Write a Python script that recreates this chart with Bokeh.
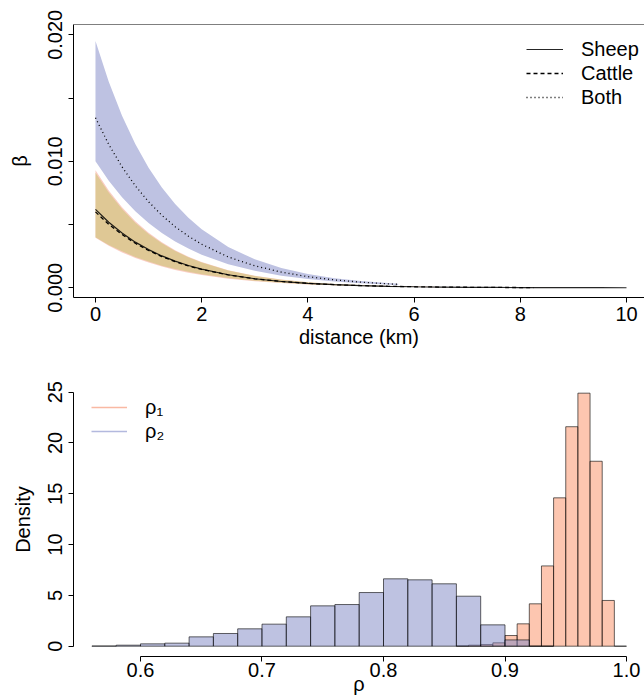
from bokeh.plotting import figure
from bokeh.layouts import column
from bokeh.models import (Range1d, FixedTicker, Span, Legend, LegendItem, Label,
                          PrintfTickFormatter)
from bokeh.embed import file_html
from bokeh.resources import INLINE

FONT = "Liberation Sans"
NAN = float("nan")

# ---------------- Panel A data (transmission kernel beta vs distance) ----------------
dist_sheep = [0, 0.25, 0.5, 0.75, 1, 1.25, 1.5, 1.75, 2, 2.5, 3, 3.5, 4, 4.5, 5, 5.5,
              6, 6.5, 7, 7.5, 8, 8.5, 9, 9.5, 10]
sheep_mean = [0.00620, 0.00518, 0.00433, 0.00361, 0.00302, 0.00252, 0.00211, 0.00176,
              0.00147, 0.00103, 0.000715, 0.000499, 0.000348, 0.000243, 0.000169,
              0.000118, 0.0000825, 0.0000575, 0.0000401, 0.000028, 0.0000195,
              0.0000136, 0.0000095, 0.0000066, 0.0000046]
sheep_upper = [0.00930, 0.00769, 0.00636, 0.00526, 0.00435, 0.00360, 0.00297, 0.00246,
               0.00203, 0.00139, 0.00095, 0.00065, 0.000445, 0.000304, 0.000208,
               0.000142, 0.0000973, 0.0000665, 0.0000455, 0.0000312, 0.0000213,
               0.0000150, 0.0000105, 0.0000074, 0.0000052]
sheep_lower = [0.00396, 0.00333, 0.00280, 0.00236, 0.00199, 0.00168, 0.00141, 0.00119,
               0.00101, 0.00072, 0.000520, 0.000374, 0.000269, 0.000194, 0.000140,
               0.000101, 0.0000726, 0.000052, 0.0000374, 0.0000262, 0.0000180,
               0.0000124, 0.0000086, 0.0000060, 0.0000041]

dist_cattle = [0, 0.25, 0.5, 0.75, 1, 1.25, 1.5, 1.75, 2, 2.5, 3, 3.5, 4, 4.5, 5, 5.5,
               6, 6.5, 7, 7.5, 8, 8.25]
cattle_mean = [0.00600, 0.00502, 0.00421, 0.00352, 0.00295, 0.00247, 0.00207, 0.00173,
               0.00145, 0.00102, 0.000713, 0.000500, 0.000350, 0.000246, 0.000172,
               0.000121, 0.0000846, 0.0000594, 0.0000416, 0.0000292, 0.0000205,
               0.0000172]
cattle_upper = [0.00910, 0.00753, 0.00622, 0.00515, 0.00426, 0.00352, 0.00291, 0.00241,
                0.00199, 0.00136, 0.00093, 0.000636, 0.000435, 0.000298, 0.000204,
                0.000139, 0.0000952, 0.0000651, 0.0000445, 0.0000312, 0.0000220,
                0.0000185]
cattle_lower = [0.00400, 0.00339, 0.00288, 0.00244, 0.00207, 0.00175, 0.00149, 0.00126,
                0.00107, 0.000768, 0.000552, 0.000397, 0.000286, 0.000205, 0.000148,
                0.000106, 0.0000764, 0.0000548, 0.0000394, 0.0000276, 0.0000192,
                0.0000160]

dist_both = [0, 0.25, 0.5, 0.75, 1, 1.25, 1.5, 1.75, 2, 2.5, 3, 3.5, 4, 4.5, 5, 5.5, 5.7]
both_mean = [0.01344, 0.01133, 0.00956, 0.00806, 0.00680, 0.00573, 0.00483, 0.00408,
             0.00344, 0.00244, 0.00174, 0.00124, 0.00088, 0.000625, 0.000445, 0.000316,
             0.000276]
both_upper = [0.01950, 0.01629, 0.01361, 0.01136, 0.00949, 0.00793, 0.00662, 0.00553,
              0.00462, 0.00322, 0.00225, 0.00157, 0.00109, 0.000764, 0.000532, 0.000372,
              0.000322]
both_lower = [0.01000, 0.00846, 0.00715, 0.00605, 0.00512, 0.00433, 0.00366, 0.00310,
              0.00262, 0.00187, 0.00134, 0.00096, 0.000686, 0.00049, 0.000351, 0.000251,
              0.000219]

a_xticks = [0, 2, 4, 6, 8, 10]
a_yticks = [0, 0.01, 0.02]
a_yminor = [0.005, 0.015]

# ---------------- Panel B data (posterior histograms of rho) ----------------
rho1_bin_left = [0.86, 0.87, 0.88, 0.89, 0.90, 0.91, 0.92, 0.93, 0.94, 0.95, 0.96,
                 0.97, 0.98, 0.99]
rho1_bin_width = 0.01
rho1_density = [0.03, 0.10, 0.16, 0.33, 1.05, 2.20, 4.17, 7.90, 14.6, 21.6, 24.9,
                18.2, 4.5, 0.0]

rho2_bin_left = [0.56, 0.58, 0.60, 0.62, 0.64, 0.66, 0.68, 0.70, 0.72, 0.74, 0.76,
                 0.78, 0.80, 0.82, 0.84, 0.86, 0.88, 0.90, 0.92]
rho2_bin_width = 0.02
rho2_density = [0.02, 0.10, 0.23, 0.30, 0.92, 1.25, 1.71, 2.17, 2.89, 3.97, 4.10,
                5.28, 6.63, 6.53, 6.14, 4.92, 2.10, 0.62, 0.0]

b_xticks = [0.6, 0.7, 0.8, 0.9, 1.0]
b_yticks = [0, 5, 10, 15, 20, 25]


def style_axis(ax):
    ax.axis_line_color = "black"
    ax.axis_line_width = 1
    ax.major_tick_line_color = "black"
    ax.major_tick_out = 5
    ax.major_tick_in = 0
    ax.minor_tick_out = 0
    ax.minor_tick_in = 0
    ax.major_label_text_font = FONT
    ax.major_label_text_font_size = "20px"
    ax.major_label_text_color = "black"
    ax.axis_label_text_font = FONT
    ax.axis_label_text_font_size = "20px"
    ax.axis_label_text_font_style = "normal"
    ax.axis_label_text_color = "black"


def style_legend(leg, glyph_w):
    leg.label_text_font = FONT
    leg.label_text_font_size = "20px"
    leg.label_text_color = "black"
    leg.glyph_width = glyph_w
    leg.glyph_height = 24
    leg.label_height = 24
    leg.label_standoff = 18
    leg.spacing = 0
    leg.padding = 5
    leg.margin = 0
    leg.border_line_color = None
    leg.background_fill_alpha = 0


# ================= Panel A =================
p1 = figure(width=644, height=360, output_backend="svg", toolbar_location=None,
            x_range=Range1d(-0.414, 10.339), y_range=Range1d(-0.000767, 0.020814),
            min_border_left=73, min_border_right=0, min_border_top=24,
            min_border_bottom=63)
p1.xgrid.visible = False
p1.ygrid.visible = False
p1.outline_line_color = None
p1.background_fill_color = "white"

p1.varea(x=dist_both, y1=both_lower, y2=both_upper, fill_color="#BEC2E2", fill_alpha=1.0)
p1.varea(x=dist_sheep, y1=sheep_lower, y2=sheep_upper, fill_color="#F5917A", fill_alpha=0.45)
p1.varea(x=dist_cattle, y1=cattle_lower, y2=cattle_upper, fill_color="#C8C470", fill_alpha=0.55)

r_both = p1.line(dist_both, both_mean, line_color="black", line_width=1.3, line_dash="1 3")
r_cattle = p1.line(dist_cattle, cattle_mean, line_color="black", line_width=1.3, line_dash="4 3")
r_sheep = p1.line(dist_sheep, sheep_mean, line_color="black", line_width=1.2, line_alpha=0.85)

xa = p1.xaxis[0]
style_axis(xa)
xa.ticker = FixedTicker(ticks=a_xticks)
xa.axis_label = "distance (km)"
xa.major_label_standoff = 4
xa.axis_label_standoff = 2

ya = p1.yaxis[0]
style_axis(ya)
ya.ticker = FixedTicker(ticks=a_yticks, minor_ticks=a_yminor)
ya.minor_tick_out = 5
ya.minor_tick_line_color = "black"
ya.formatter = PrintfTickFormatter(format="%.3f")
ya.major_label_orientation = "vertical"
ya.axis_label = "β"
ya.major_label_standoff = 6
ya.axis_label_standoff = 15

p1.add_layout(Span(location=0.020814, dimension="width", line_color="black", line_width=1))

leg1 = Legend(items=[LegendItem(label="Sheep", renderers=[r_sheep]),
                     LegendItem(label="Cattle", renderers=[r_cattle]),
                     LegendItem(label="Both", renderers=[r_both])],
              location=(453, 188))
style_legend(leg1, 37)
p1.add_layout(leg1)

p1.add_layout(Label(x=-62, y=260, x_units="screen", y_units="screen", text="A",
                    text_font=FONT, text_font_size="30px", text_baseline="alphabetic",
                    text_color="black"))

# ================= Panel B =================
p2 = figure(width=644, height=340, output_backend="svg", toolbar_location=None,
            x_range=Range1d(0.54486, 1.01481), y_range=Range1d(-1.014, 25.95),
            min_border_left=73, min_border_right=0, min_border_top=22,
            min_border_bottom=44)
p2.xgrid.visible = False
p2.ygrid.visible = False
p2.outline_line_color = None

rho1_right = [v + rho1_bin_width for v in rho1_bin_left]
rho2_right = [v + rho2_bin_width for v in rho2_bin_left]

p2.quad(left=rho1_bin_left, right=rho1_right, bottom=0, top=rho1_density,
        fill_color="#FB8D61", fill_alpha=0.5, line_color="black", line_alpha=0.6,
        line_width=1)
p2.quad(left=rho2_bin_left, right=rho2_right, bottom=0, top=rho2_density,
        fill_color="#7D85C3", fill_alpha=0.5, line_color="black", line_alpha=0.6,
        line_width=1)

# legend-only line renderers (no visible data)
l_rho1 = p2.line(x=[NAN], y=[NAN], line_color="#F9B9A3", line_width=1.6)
l_rho2 = p2.line(x=[NAN], y=[NAN], line_color="#B3B9DE", line_width=1.6)

xb = p2.xaxis[0]
style_axis(xb)
xb.ticker = FixedTicker(ticks=b_xticks)
xb.formatter = PrintfTickFormatter(format="%.1f")
xb.bounds = (0.6, 1.0)
xb.axis_label = "ρ"
xb.major_label_standoff = 1
xb.axis_label_standoff = -7

yb = p2.yaxis[0]
style_axis(yb)
yb.ticker = FixedTicker(ticks=b_yticks)
yb.bounds = (0, 25)
yb.major_label_orientation = "vertical"
yb.axis_label = "Density"
yb.major_label_standoff = 6
yb.axis_label_standoff = 12

leg2 = Legend(items=[LegendItem(label="ρ₁", renderers=[l_rho1]),
                     LegendItem(label="ρ₂", renderers=[l_rho2])],
              location=(18, 213))
style_legend(leg2, 36)
p2.add_layout(leg2)

p2.add_layout(Label(x=-61, y=252, x_units="screen", y_units="screen", text="B",
                    text_font=FONT, text_font_size="30px", text_baseline="alphabetic",
                    text_color="black"))

layout = column(p1, p2, spacing=0)
open("out.html", "w").write(file_html(layout, INLINE))
